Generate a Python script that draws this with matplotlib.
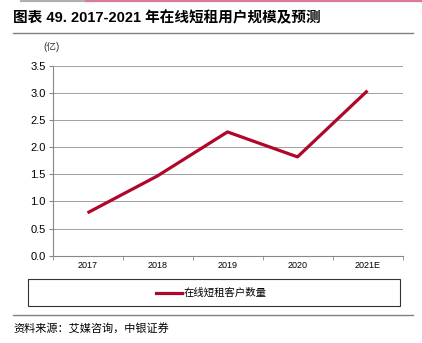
import matplotlib.pyplot as plt
from matplotlib.lines import Line2D
from matplotlib.patches import Rectangle

plt.rcParams['font.family'] = ['Liberation Sans', 'Noto Sans CJK SC']

years = ['2017', '2018', '2019', '2020', '2021E']
users = [0.79, 1.47, 2.28, 1.82, 3.04]
yticks = [0.0, 0.5, 1.0, 1.5, 2.0, 2.5, 3.0, 3.5]

W, H = 422, 343
fig = plt.figure(figsize=(W / 100, H / 100), dpi=100)

# 绘图区
ax = fig.add_axes([52.5 / W, 1 - 255.7 / H, 350 / W, 190 / H])
x = range(len(years))
ax.plot(x, users, color='#B0062C', linewidth=2.3, solid_capstyle='butt')
ax.set_xlim(-0.5, len(years) - 0.5)
ax.set_ylim(0, 3.5)
ax.set_yticks(yticks)
ax.set_yticklabels([f'{v:.1f}' for v in yticks], fontsize=8)
ax.set_xticks(list(x))
ax.set_xticklabels(years, fontsize=6.5)
ax.set_xticks([i + 0.5 for i in range(-1, len(years))], minor=True)
ax.tick_params(axis='x', which='major', length=0, pad=4)
ax.tick_params(axis='x', which='minor', length=3, color='#888888', direction='out')
ax.tick_params(axis='y', length=3, color='#888888', pad=2)
ax.grid(axis='y', color='#a0a0a0', linewidth=0.7)
ax.set_axisbelow(True)
for s in ['top', 'right']:
    ax.spines[s].set_visible(False)
for s in ['left', 'bottom']:
    ax.spines[s].set_color('#888888')
    ax.spines[s].set_linewidth(0.8)

# 顶部色条
fig.add_artist(Line2D([21 / W, 86 / W], [1 - 0.8 / H] * 2, color='#b0b0b0', linewidth=1.6))
fig.add_artist(Line2D([86 / W, 1], [1 - 0.8 / H] * 2, color='#d97b96', linewidth=1.6))

fig.text(13 / W, 1 - 18 / H, '图表 49. 2017-2021 年在线短租用户规模及预测',
         fontsize=10.5, fontweight='bold', va='center', ha='left',
         family=['Liberation Sans', 'Noto Sans CJK SC'])
fig.add_artist(Line2D([13 / W, 413 / W], [1 - 33 / H] * 2, color='#808080', linewidth=1.0))
fig.text(52 / W, 1 - 47 / H, '(亿)', fontsize=7, va='center', ha='center', color='#333333')

# 图例框
fig.add_artist(Rectangle((28 / W, 1 - 306 / H), 372 / W, 27 / H, fill=False,
                         edgecolor='#333333', linewidth=0.8, transform=fig.transFigure))
fig.add_artist(Line2D([156 / W, 182 / W], [1 - 292.5 / H] * 2, color='#B0062C', linewidth=2.3))
fig.text(184 / W, 1 - 292.5 / H, '在线短租客户数量', fontsize=7.5, va='center', ha='left',
         family=['Noto Sans CJK SC'])

fig.add_artist(Line2D([13 / W, 413 / W], [1 - 315 / H] * 2, color='#808080', linewidth=1.0))
fig.text(13 / W, 1 - 328 / H, '资料来源：艾媒咨询，中银证券', fontsize=8, style='italic',
         va='center', ha='left', family=['Noto Sans CJK SC'])

fig.savefig('out.png', dpi=100)
